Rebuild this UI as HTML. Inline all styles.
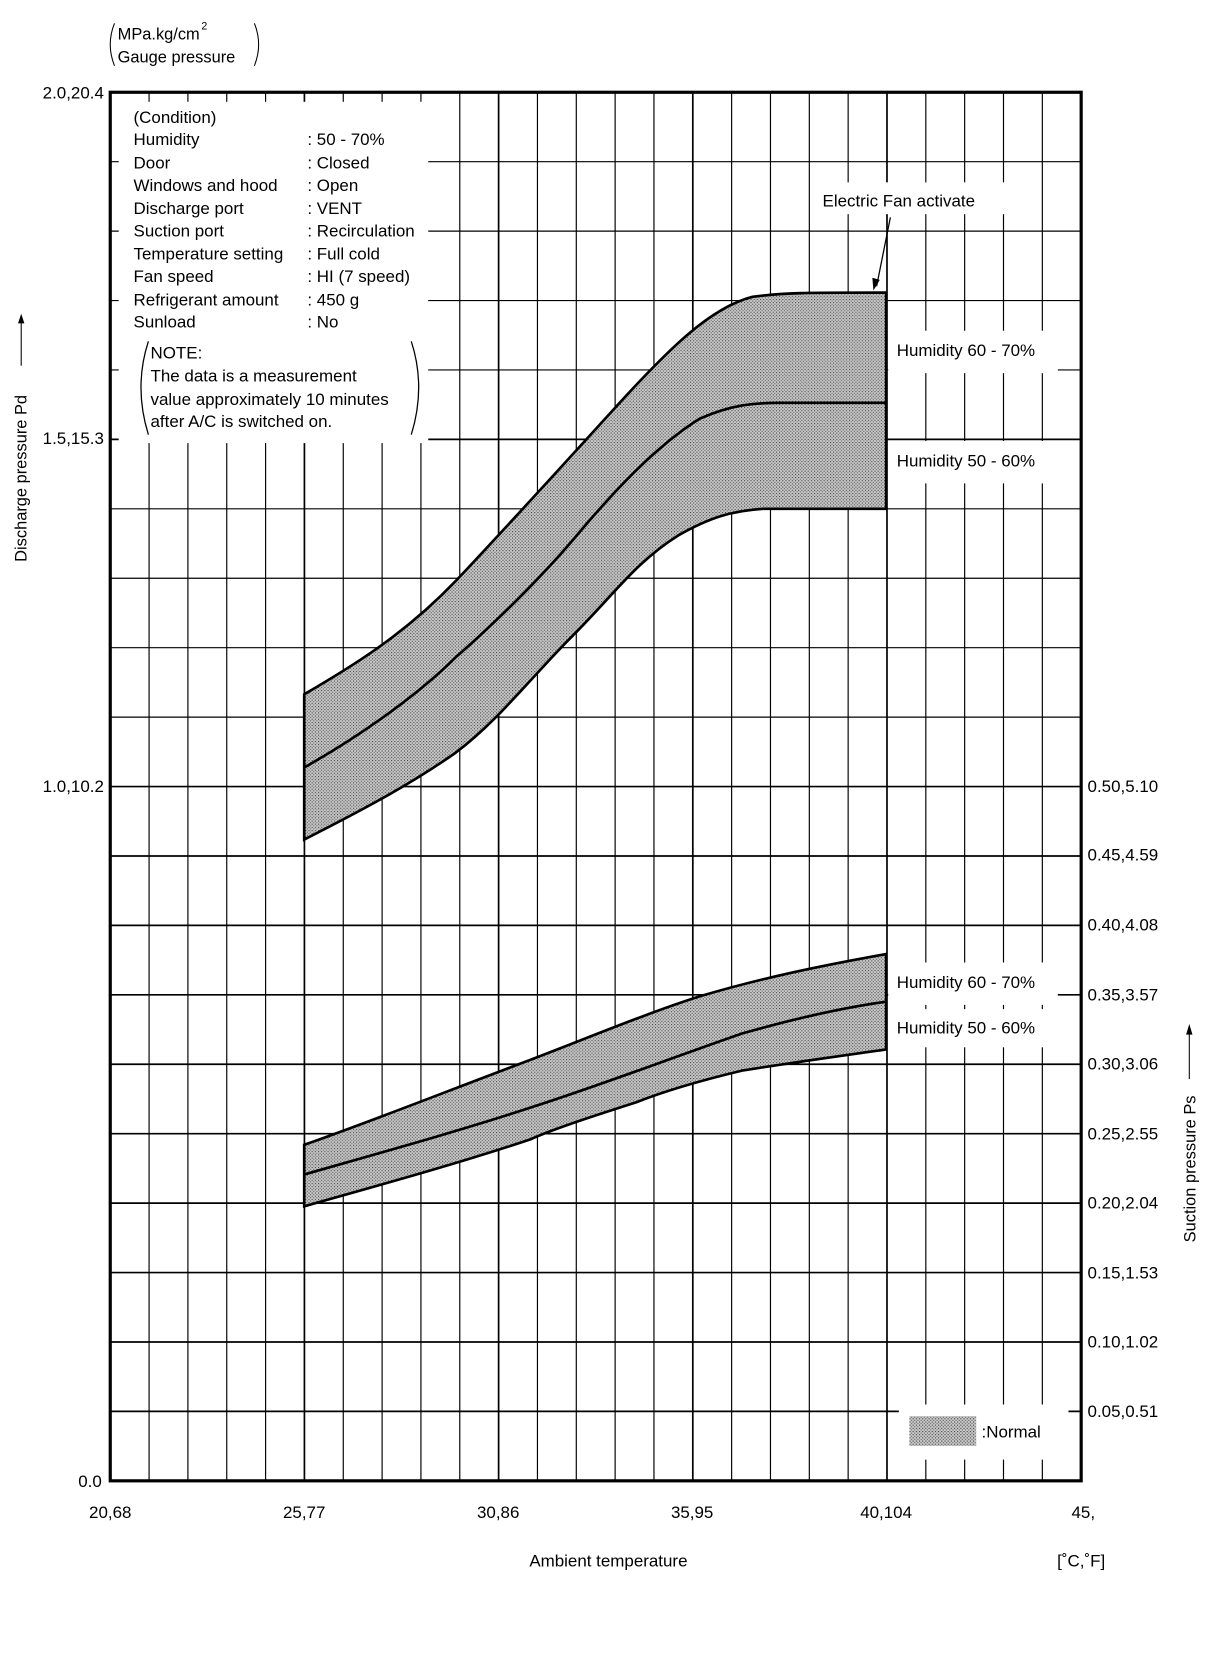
<!DOCTYPE html>
<html><head><meta charset="utf-8"><style>
html,body{margin:0;padding:0;background:#fff;}
svg{display:block;}
text{font-family:"Liberation Sans",Arial,sans-serif;fill:#000;}
</style></head><body>
<svg width="1216" height="1660" viewBox="0 0 1147.2 1566" xmlns="http://www.w3.org/2000/svg">
<defs>
<pattern id="dots" width="3" height="3" patternUnits="userSpaceOnUse">
<rect width="3" height="3" fill="#c8c8c8"/>
<rect width="1" height="1" fill="#333"/>
<rect x="1.5" y="1.5" width="1" height="1" fill="#555"/>
</pattern>
</defs>
<g stroke="#000" stroke-width="1.1" id="grid"></g>
<script>
(function(){
var g=document.getElementById('grid'),ns='http://www.w3.org/2000/svg';
for(var k=1;k<25;k++){var x=104+36.64*k;var l=document.createElementNS(ns,'line');l.setAttribute('x1',x);l.setAttribute('x2',x);l.setAttribute('y1',87);l.setAttribute('y2',1397);if(k%5==0)l.setAttribute('stroke-width','1.6');g.appendChild(l);}
for(var k=1;k<20;k++){var y=87+65.5*k;var l=document.createElementNS(ns,'line');l.setAttribute('x1',104);l.setAttribute('x2',1020);l.setAttribute('y1',y);l.setAttribute('y2',y);if(k%5==0||k>=10)l.setAttribute('stroke-width','1.6');g.appendChild(l);}
})();
</script>
<path d="M287,655 C330,630 380,600 430,548 C480,495 530,440 580,385 C630,330 670,290 710,280 C740,276 760,276 836,276 L836,480 L720,480 C690,482 670,488 640,505 C600,530 580,560 540,600 C500,640 470,680 430,710 C390,738 350,760 287,792 Z" fill="url(#dots)" stroke="#000" stroke-width="2.5"/>
<path d="M287,724 C330,700 390,660 430,620 C470,585 510,545 540,510 C580,462 620,420 660,395 C690,382 710,380 736,380 L836,380" fill="none" stroke="#000" stroke-width="2.5"/>
<path d="M287,1080 C350,1058 420,1030 500,1000 C560,977 610,956 660,940 C720,922 780,910 836,900 L836,990 C780,998 730,1005 700,1010 C650,1022 620,1032 600,1040 C550,1056 520,1066 500,1075 C440,1095 380,1112 287,1138 Z" fill="url(#dots)" stroke="#000" stroke-width="2.5"/>
<path d="M287,1108 C350,1090 430,1068 500,1045 C560,1026 620,1003 700,975 C760,958 800,950 836,945" fill="none" stroke="#000" stroke-width="2.5"/>
<rect x="112" y="96" width="292" height="322" fill="#fff"/>
<rect x="768" y="172" width="180" height="30" fill="#fff"/>
<rect x="838" y="312" width="160" height="40" fill="#fff"/>
<rect x="838" y="416" width="160" height="40" fill="#fff"/>
<rect x="838" y="908" width="160" height="40" fill="#fff"/>
<rect x="838" y="952" width="160" height="36" fill="#fff"/>
<rect x="848" y="1325" width="160" height="52" fill="#fff"/>
<rect x="104" y="87" width="916" height="1310" fill="none" stroke="#000" stroke-width="3"/>
<g font-size="16">
<text x="126" y="116">(Condition)</text>
<text x="126" y="137">Humidity</text><text x="290" y="137">: 50 - 70%</text>
<text x="126" y="159">Door</text><text x="290" y="159">: Closed</text>
<text x="126" y="180">Windows and hood</text><text x="290" y="180">: Open</text>
<text x="126" y="202">Discharge port</text><text x="290" y="202">: VENT</text>
<text x="126" y="223">Suction port</text><text x="290" y="223">: Recirculation</text>
<text x="126" y="245">Temperature setting</text><text x="290" y="245">: Full cold</text>
<text x="126" y="266">Fan speed</text><text x="290" y="266">: HI (7 speed)</text>
<text x="126" y="288">Refrigerant amount</text><text x="290" y="288">: 450 g</text>
<text x="126" y="309">Sunload</text><text x="290" y="309">: No</text>
<text x="142" y="338">NOTE:</text>
<text x="142" y="360">The data is a measurement</text>
<text x="142" y="382">value approximately 10 minutes</text>
<text x="142" y="403">after A/C is switched on.</text>
</g>
<path d="M140,322 Q126,365 140,410" fill="none" stroke="#000" stroke-width="1.2"/>
<path d="M388,322 Q402,365 388,410" fill="none" stroke="#000" stroke-width="1.2"/>
<g font-size="16">
<text x="776" y="195">Electric Fan activate</text>
<text x="846" y="336">Humidity 60 - 70%</text>
<text x="846" y="440">Humidity 50 - 60%</text>
<text x="846" y="932">Humidity 60 - 70%</text>
<text x="846" y="975">Humidity 50 - 60%</text>
<text x="926" y="1356">:Normal</text>
</g>
<line x1="840" y1="205" x2="827" y2="270" stroke="#000" stroke-width="1.2"/>
<path d="M824,274 L823,262 L830,264 Z" fill="#000"/>
<rect x="858" y="1336" width="63" height="28" fill="url(#dots)"/>
<g font-size="15.5">
<text x="111" y="37">MPa.kg/cm</text><text x="190" y="28" font-size="10">2</text>
<text x="111" y="59">Gauge pressure</text>
</g>
<path d="M108,22 Q100,42 108,62" fill="none" stroke="#000"/>
<path d="M240,22 Q248,42 240,62" fill="none" stroke="#000"/>
<g font-size="16" text-anchor="end">
<text x="98" y="93">2.0,20.4</text>
<text x="98" y="419">1.5,15.3</text>
<text x="98" y="747">1.0,10.2</text>
<text x="96" y="1403">0.0</text>
</g>
<g font-size="16">
<text x="1026" y="747">0.50,5.10</text>
<text x="1026" y="812">0.45,4.59</text>
<text x="1026" y="878">0.40,4.08</text>
<text x="1026" y="944">0.35,3.57</text>
<text x="1026" y="1009">0.30,3.06</text>
<text x="1026" y="1075">0.25,2.55</text>
<text x="1026" y="1140">0.20,2.04</text>
<text x="1026" y="1206">0.15,1.53</text>
<text x="1026" y="1271">0.10,1.02</text>
<text x="1026" y="1337">0.05,0.51</text>
</g>
<g font-size="16" text-anchor="middle">
<text x="104" y="1432">20,68</text>
<text x="287" y="1432">25,77</text>
<text x="470" y="1432">30,86</text>
<text x="653" y="1432">35,95</text>
<text x="836" y="1432">40,104</text>
<text x="1022" y="1432">45,</text>
<text x="574" y="1478">Ambient temperature</text>
<text x="1020" y="1478">[˚C,˚F]</text>
</g>
<text transform="translate(25,530) rotate(-90)" font-size="15.5">Discharge pressure Pd</text>
<line x1="20" y1="305" x2="20" y2="345" stroke="#000" stroke-width="1"/>
<path d="M20,296 L17,305 L23,305 Z" fill="#000"/>
<text transform="translate(1128,1172) rotate(-90)" font-size="15.5">Suction pressure Ps</text>
<line x1="1122" y1="975" x2="1122" y2="1018" stroke="#000"/>
<path d="M1122,966 L1119,976 L1125,976 Z" fill="#000"/>
</svg>
</body></html>
